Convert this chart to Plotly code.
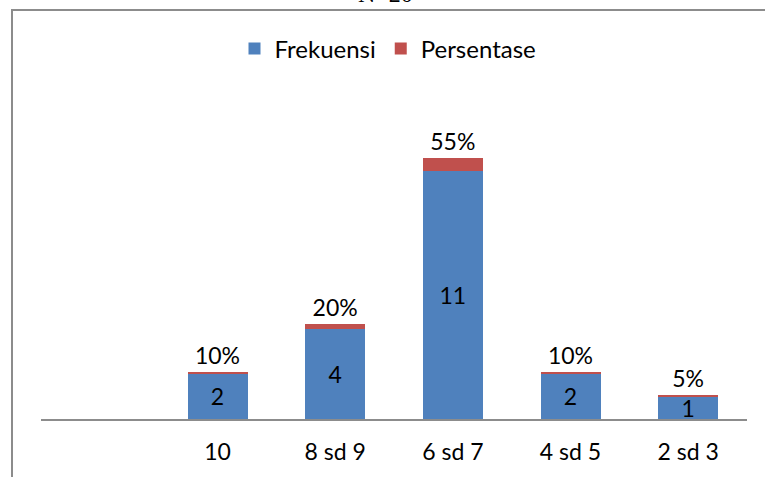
import plotly.graph_objects as go

categories = ["10", "8 sd 9", "6 sd 7", "4 sd 5", "2 sd 3"]
frekuensi = [2, 4, 11, 2, 1]
persentase = [0.10, 0.20, 0.55, 0.10, 0.05]
pct_labels = ["10%", "20%", "55%", "10%", "5%"]

W, H = 765, 477
ML, MR, MT, MB = 41, 18, 103, 58
YMAX = 14
FONT = "Lato"

fig = go.Figure()
fig.add_trace(go.Bar(
    name="Frekuensi", x=categories, y=frekuensi,
    marker=dict(color="#4F81BD", line=dict(width=0)),
    text=[str(v) for v in frekuensi], textposition="inside",
    insidetextanchor="middle", constraintext="none", textangle=0,
    textfont=dict(color="black", size=23, family=FONT),
    hoverinfo="skip",
))
fig.add_trace(go.Bar(
    name="Persentase", x=categories, y=persentase,
    marker=dict(color="#C0504D", line=dict(width=0)),
    text=pct_labels, textposition="outside", constraintext="none", textangle=0,
    textfont=dict(color="black", size=23, family=FONT),
    cliponaxis=False, hoverinfo="skip",
))

pw = W - ML - MR
ph = H - MT - MB
def px_x(p):
    return (p - ML) / pw
def px_y(p):
    return (H - MB - p) / ph

fig.update_layout(
    width=W, height=H,
    margin=dict(l=ML, r=MR, t=MT, b=MB, autoexpand=False),
    barmode="stack", bargap=0.49,
    plot_bgcolor="white", paper_bgcolor="white",
    font=dict(family=FONT, size=23, color="black"),
    showlegend=True,
    legend=dict(orientation="h", x=px_x(388), xanchor="center",
                y=px_y(49), yanchor="middle", font=dict(size=24),
                traceorder="normal",
                bgcolor="rgba(0,0,0,0)", itemwidth=30),
    xaxis=dict(type="category", range=[-1.5, 4.5], showgrid=False,
               showline=True, linecolor="#8c8c8c", linewidth=1.5,
               ticks="", ticklabelstandoff=12, zeroline=False, automargin=False,
               tickfont=dict(size=23, family=FONT)),
    yaxis=dict(range=[0, YMAX], visible=False, showgrid=False, zeroline=False,
               automargin=False),
    shapes=[dict(type="rect", xref="paper", yref="paper",
                 x0=px_x(12), y0=px_y(520), x1=px_x(800), y1=px_y(10),
                 line=dict(color="#8c8c8c", width=2), fillcolor="rgba(0,0,0,0)",
                 layer="below")],
    annotations=[dict(text="N=20", xref="paper", yref="paper",
                      x=px_x(385), y=px_y(9), xanchor="center", yanchor="bottom",
                      showarrow=False,
                      font=dict(family="Liberation Serif", size=24, color="black"))],
)

fig.write_html("out.html")
